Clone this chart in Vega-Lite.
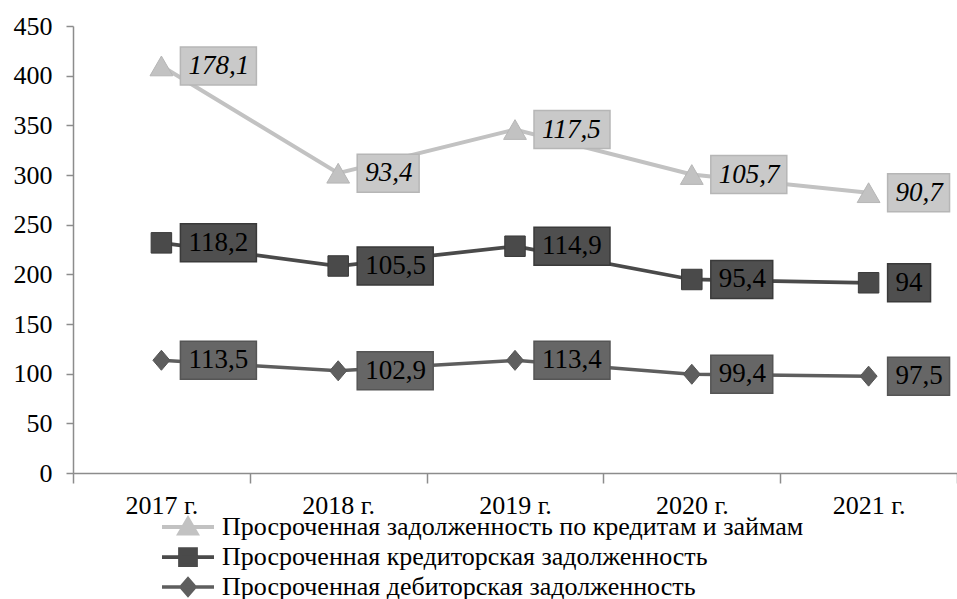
{
  "$schema": "https://vega.github.io/schema/vega-lite/v6.json",
  "width": 884,
  "height": 447,
  "autosize": {"type": "none"},
  "padding": {"left": 73, "top": 26, "right": 0, "bottom": 126},
  "background": "white",
  "config": {
    "view": {"stroke": null},
    "font": "Liberation Serif",
    "locale": {"number": {"decimal": ",", "thousands": " ", "grouping": [3], "currency": ["", ""]}}
  },
  "data": {
    "values": [
      {"year": "2017 г.", "series": "Просроченная дебиторская задолженность", "value": 113.5},
      {"year": "2017 г.", "series": "Просроченная кредиторская задолженность", "value": 118.2},
      {"year": "2017 г.", "series": "Просроченная задолженность по кредитам и займам", "value": 178.1},
      {"year": "2018 г.", "series": "Просроченная дебиторская задолженность", "value": 102.9},
      {"year": "2018 г.", "series": "Просроченная кредиторская задолженность", "value": 105.5},
      {"year": "2018 г.", "series": "Просроченная задолженность по кредитам и займам", "value": 93.4},
      {"year": "2019 г.", "series": "Просроченная дебиторская задолженность", "value": 113.4},
      {"year": "2019 г.", "series": "Просроченная кредиторская задолженность", "value": 114.9},
      {"year": "2019 г.", "series": "Просроченная задолженность по кредитам и займам", "value": 117.5},
      {"year": "2020 г.", "series": "Просроченная дебиторская задолженность", "value": 99.4},
      {"year": "2020 г.", "series": "Просроченная кредиторская задолженность", "value": 95.4},
      {"year": "2020 г.", "series": "Просроченная задолженность по кредитам и займам", "value": 105.7},
      {"year": "2021 г.", "series": "Просроченная дебиторская задолженность", "value": 97.5},
      {"year": "2021 г.", "series": "Просроченная кредиторская задолженность", "value": 94},
      {"year": "2021 г.", "series": "Просроченная задолженность по кредитам и займам", "value": 90.7}
    ]
  },
  "transform": [
    {"stack": "value", "groupby": ["year"], "as": ["v0", "v1"]}
  ],
  "encoding": {
    "x": {
      "field": "year", "type": "nominal", "sort": null,
      "scale": {"type": "band", "paddingInner": 0, "paddingOuter": 0},
      "axis": {
        "title": null, "tickBand": "extent", "tickSize": 10, "labelAngle": 0,
        "labelFontSize": 26, "labelColor": "black", "labelPadding": 9,
        "domainColor": "#8c8c8c", "tickColor": "#8c8c8c", "domainWidth": 1.5, "tickWidth": 1.5
      }
    },
    "y": {
      "field": "v1", "type": "quantitative",
      "scale": {"domain": [0, 450], "nice": false},
      "axis": {
        "title": null, "values": [0, 50, 100, 150, 200, 250, 300, 350, 400, 450],
        "grid": false, "tickSize": 7, "labelPadding": 14, "labelFontSize": 26,
        "labelColor": "black", "domainColor": "#8c8c8c", "tickColor": "#8c8c8c",
        "domainWidth": 1.5, "tickWidth": 1.5
      }
    }
  },
  "layer": [
    {
      "mark": {"type": "line"},
      "encoding": {
        "color": {
          "field": "series", "type": "nominal",
          "scale": {
            "domain": ["Просроченная задолженность по кредитам и займам", "Просроченная кредиторская задолженность", "Просроченная дебиторская задолженность"],
            "range": ["#c2c2c2", "#4a4a4a", "#5e5e5e"]
          },
          "legend": {
            "title": null, "orient": "none", "legendX": 102, "legendY": 488,
            "direction": "vertical", "labelFontSize": 26, "labelColor": "black",
            "labelFont": "Liberation Serif", "labelOffset": 21, "rowPadding": -1,
            "symbolSize": 400, "symbolType": "M-2.6,0H2.6M-0.8,-0.8H0.8V0.8H-0.8Z", "labelLimit": 0, "padding": 0,
            "encode": {
              "symbols": {
                "update": {
                  "shape": {"signal": "indexof(datum.value, 'займам') >= 0 ? 'M-2.6,0H2.6M-0.85,0.65L0,-0.8L0.85,0.65Z' : (indexof(datum.value, 'кредиторская') >= 0 ? 'M-2.6,0H2.6M-0.8,-0.8H0.8V0.8H-0.8Z' : 'M-2.6,0H2.6M0,-0.8L0.7,0L0,0.8L-0.7,0Z')"},
                  "fill": {"scale": "color", "field": "value"},
                  "stroke": {"scale": "color", "field": "value"},
                  "strokeWidth": {"value": 3},
                  "size": {"value": 400},
                  "opacity": {"value": 1}
                }
              }
            }
          }
        },
        "strokeWidth": {
          "field": "series", "type": "nominal",
          "scale": {
            "domain": ["Просроченная задолженность по кредитам и займам", "Просроченная кредиторская задолженность", "Просроченная дебиторская задолженность"],
            "range": [4, 3.5, 3]
          },
          "legend": null
        }
      }
    },
    {
      "mark": {"type": "point", "filled": true, "opacity": 1, "strokeWidth": 1},
      "encoding": {
        "color": {"field": "series", "type": "nominal"},
        "stroke": {
          "field": "series", "type": "nominal",
          "scale": {
            "domain": ["Просроченная задолженность по кредитам и займам", "Просроченная кредиторская задолженность", "Просроченная дебиторская задолженность"],
            "range": ["#b6b6b6", "#3a3a3a", "#555555"]
          },
          "legend": null
        },
        "shape": {
          "condition": [
            {"test": "indexof(datum.series, 'займам') >= 0", "value": "triangle-up"},
            {"test": "indexof(datum.series, 'кредиторская') >= 0", "value": "square"}
          ],
          "value": "M0,-1L0.85,0L0,1L-0.85,0Z"
        },
        "size": {
          "condition": [
            {"test": "indexof(datum.series, 'займам') >= 0", "value": 520},
            {"test": "indexof(datum.series, 'кредиторская') >= 0", "value": 420}
          ],
          "value": 400
        }
      }
    },
    {
      "mark": {"type": "point", "filled": true, "opacity": 1, "size": 1444, "strokeWidth": 1.5},
      "encoding": {
        "fill": {
          "field": "series", "type": "nominal",
          "scale": {
            "domain": ["Просроченная задолженность по кредитам и займам", "Просроченная кредиторская задолженность", "Просроченная дебиторская задолженность"],
            "range": ["#c9c9c9", "#4f4f4f", "#666666"]
          },
          "legend": null
        },
        "stroke": {"field": "series", "type": "nominal", "legend": null},
        "shape": {
          "condition": [
            {"test": "datum.value >= 100", "value": "M1,-1H5V1H1Z"},
            {"test": "datum.value % 1 != 0", "value": "M1,-1H4.26V1H1Z"}
          ],
          "value": "M1,-1H3.26V1H1Z"
        }
      }
    },
    {
      "transform": [{"filter": "indexof(datum.series, 'займам') < 0"}],
      "mark": {"type": "text", "align": "left", "baseline": "middle", "dx": 27, "fontSize": 27, "color": "black", "font": "Liberation Serif"},
      "encoding": {
        "text": {"field": "value", "type": "quantitative", "format": ".1~f"}
      }
    },
    {
      "transform": [{"filter": "indexof(datum.series, 'займам') >= 0"}],
      "mark": {"type": "text", "align": "left", "baseline": "middle", "dx": 27, "fontSize": 27, "fontStyle": "italic", "color": "black", "font": "Liberation Serif"},
      "encoding": {
        "text": {"field": "value", "type": "quantitative", "format": ".1~f"}
      }
    }
  ]
}
